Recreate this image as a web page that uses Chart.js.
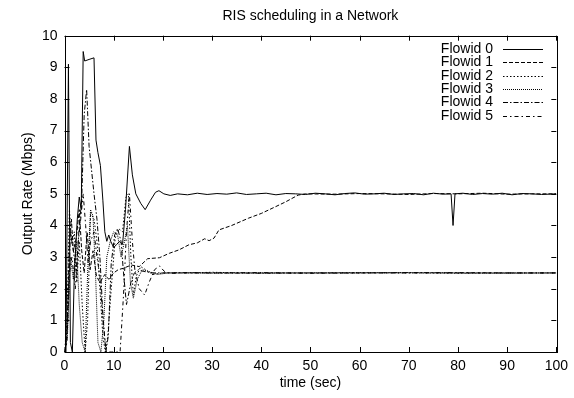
<!DOCTYPE html>
<html>
<head>
<meta charset="utf-8">
<script src="https://cdn.jsdelivr.net/npm/chart.js@4/dist/chart.umd.min.js"></script>
<style>
  html, body { margin: 0; padding: 0; background: #fff; }
  #wrap { width: 574px; height: 398px; }
</style>
</head>
<body>
<div id="wrap"><canvas id="c" width="574" height="398"></canvas></div>
<script>
// ---- data ----
const chartTitle = "RIS scheduling in a Network";
const xTitle = "time (sec)";
const yTitle = "Output Rate (Mbps)";
const seriesNames = ["Flowid 0", "Flowid 1", "Flowid 2", "Flowid 3", "Flowid 4", "Flowid 5"];

const flow0Time = [0,0.3,0.8,1.2,1.6,2.0,2.6,3.0,3.4,3.8,4.1,5.0,6.0,6.4,6.8,7.3,7.8,8.2,8.6,9.0,9.4,10.0,10.6,11.2,11.8,12.4,13.2,13.8,14.5,15.5,16.4,17.5,18.5,19.2,20.2,21.5,23,25,27,29,31,33,35,37,39,41,43,45,47,49,51,53,55,57,59,61,63,65,67,69,71,73,75,77,78.6,79,79.4,81,83,85,87,89,91,93,95,97,100];
const flow0Rate = [0,0,9.1,0.3,0,2.5,4.2,4.9,4.5,9.5,9.2,9.25,9.3,6.7,6.3,5.9,4.8,3.8,3.5,3.7,3.5,3.3,3.4,3.5,3.4,4.5,6.5,5.6,5.0,4.7,4.5,4.8,5.05,5.1,5.0,4.95,5.0,4.97,5.02,4.98,5.01,4.99,5.03,4.98,5.0,5.02,4.97,5.01,5.0,4.98,5.02,5.0,4.97,5.01,5.03,4.99,5.0,5.02,4.98,5.0,5.01,4.97,5.02,4.99,5.0,4.0,5.0,5.02,4.98,5.01,4.99,5.02,4.97,5.01,5.0,4.98,5.0];

const flow1Time = [0,0.5,1.0,1.4,1.8,2.4,3.0,3.5,4.0,4.6,5.2,5.8,6.5,7.2,8.2,9.0,10.0,10.9,12.0,13.6,15.2,16.9,19.3,21.3,23.3,25.3,27.0,28.5,29.4,30.4,31.4,34,37.4,40,43,45,47.5,49,55,60,65,70,75,80,85,90,95,100];
const flow1Rate = [0,0.5,3.5,4.2,3.2,3.6,4.5,3.2,2.5,3.8,2.6,3.2,2.4,2.2,2.45,2.3,2.5,2.6,2.65,2.75,2.7,2.95,2.98,3.12,3.23,3.39,3.45,3.58,3.52,3.6,3.86,4.0,4.23,4.38,4.6,4.75,4.96,5.0,4.99,5.01,5.0,4.98,5.01,5.0,5.02,4.99,5.0,5.0];

const flow2Time = [0,0.5,1.0,1.5,2.0,2.5,3.0,3.6,4.2,4.7,5.3,6.0,6.6,7.2,7.8,8.3,8.8,9.5,10.3,11.0,11.8,12.5,13.0,13.5,14.0,14.6,15.5,16.5,18,20,25,30,40,50,60,70,80,90,100];
const flow2Rate = [0,1.0,4.5,3.4,3.8,2.2,3.5,1.5,0,1.0,4.4,4.2,3.5,2.0,0.5,0,0.5,2.0,3.6,3.9,3.8,4.9,5.0,3.0,1.8,2.4,2.7,2.6,2.45,2.5,2.5,2.52,2.49,2.5,2.51,2.5,2.49,2.5,2.5];

const flow3Time = [0,0.6,1.2,1.8,2.4,3.0,3.6,4.2,4.7,5.3,5.8,6.3,6.8,7.4,8.0,8.6,9.3,10.0,10.8,11.5,12.2,12.8,13.4,14.0,14.8,15.8,17,19,21,25,30,40,50,60,70,80,90,100];
const flow3Rate = [0,0.5,3.0,2.3,3.5,1.5,0.3,0,2.5,4.5,4.3,2.5,0.3,0,1.0,3.0,3.5,3.8,3.7,3.0,3.5,4.0,2.2,1.7,2.3,2.6,2.55,2.45,2.5,2.5,2.49,2.51,2.5,2.5,2.51,2.5,2.49,2.5];

const flow4Time = [0,0.6,1.2,1.8,2.4,3.0,3.5,4.0,4.5,5.0,6.0,6.6,7.2,7.8,8.4,8.9,9.5,10.2,10.8,11.5,12.0,12.6,13.0,13.5,14.2,15.0,16.0,18,20,25,30,40,50,60,70,80,90,100];
const flow4Rate = [0,0.8,3.8,3.2,2.5,4.0,4.8,7.5,8.3,6.5,5.0,4.2,3.0,1.2,0,0.5,2.8,3.7,3.9,3.5,2.5,1.5,1.8,2.2,2.5,2.6,2.55,2.5,2.5,2.51,2.5,2.49,2.5,2.5,2.51,2.5,2.5,2.5];

const flow5Time = [0,0.5,1.0,1.5,2.2,2.8,3.3,3.8,4.3,4.8,5.3,6.0,6.6,7.2,7.8,8.5,9.5,10.5,11.3,12.0,12.6,13.2,13.8,14.3,15.2,16.3,17.2,18.3,19.3,20.3,21.5,23,30,40,50,60,70,80,90,100];
const flow5Rate = [0,0.3,2.5,3.0,2.0,3.5,4.2,5.0,4.0,2.8,3.5,3.8,3.0,2.4,1.0,0,0,0,0,1.8,3.8,5.0,3.5,2.6,2.0,1.8,2.2,2.6,2.72,2.55,2.48,2.5,2.5,2.51,2.49,2.5,2.5,2.51,2.5,2.5];

const xMin = 0, xMax = 100, xStep = 10;
const yMin = 0, yMax = 10, yStep = 1;

// ---- styling ----
const FONT = "'Liberation Sans', Arial, Helvetica, sans-serif";
const dashes = [[], [4, 2], [1.5, 2], [1, 1], [5, 2, 1.5, 2], [4, 3, 1.5, 3]];
const times = [flow0Time, flow1Time, flow2Time, flow3Time, flow4Time, flow5Time];
const rates = [flow0Rate, flow1Rate, flow2Rate, flow3Rate, flow4Rate, flow5Rate];

const datasets = seriesNames.map((name, i) => ({
  label: name,
  data: times[i].map((t, k) => ({ x: t, y: rates[i][k] })),
  borderColor: '#000',
  borderWidth: 1,
  borderDash: dashes[i],
  pointRadius: 0,
  tension: 0,
  fill: false
}));

const gnuplotFrame = {
  id: 'gnuplotFrame',
  afterDraw(chart) {
    const { ctx, chartArea: { left, right, top, bottom }, scales: { x, y } } = chart;
    ctx.save();
    ctx.strokeStyle = '#000';
    ctx.lineWidth = 1;
    ctx.setLineDash([]);
    const seg = (x1, y1, x2, y2) => { ctx.beginPath(); ctx.moveTo(x1, y1); ctx.lineTo(x2, y2); ctx.stroke(); };
    ctx.strokeRect(Math.round(left) + 0.5, Math.round(top) + 0.5, Math.round(right - left), Math.round(bottom - top));
    const tl = 5;
    x.ticks.forEach(tk => {
      const px = Math.round(x.getPixelForValue(tk.value)) + 0.5;
      seg(px, bottom, px, bottom - tl);
      seg(px, top, px, top + tl);
    });
    y.ticks.forEach(tk => {
      const py = Math.round(y.getPixelForValue(tk.value)) + 0.5;
      seg(left, py, left + tl, py);
      seg(right, py, right - tl, py);
    });
    ctx.fillStyle = '#000';
    // title, centred over the plot area
    ctx.font = "14px " + FONT;
    ctx.textAlign = 'center';
    ctx.textBaseline = 'middle';
    ctx.fillText(chartTitle, (left + right) / 2, 16);
    // gnuplot-style key: label then line sample
    ctx.textAlign = 'right';
    chart.data.datasets.forEach((ds, i) => {
      const yy = Math.round(49 + i * 13.3) + 0.5;
      ctx.fillText(ds.label, 493, yy);
      ctx.setLineDash(ds.borderDash || []);
      seg(503, yy, 543, yy);
    });
    ctx.restore();
  }
};

new Chart(document.getElementById('c'), {
  type: 'line',
  data: { datasets },
  options: {
    responsive: false,
    animation: false,
    devicePixelRatio: 1,
    layout: { padding: { left: 0, right: 14, top: 35.7, bottom: 0 } },
    plugins: {
      legend: { display: false },
      tooltip: { enabled: false },
      title: { display: false }
    },
    scales: {
      x: {
        type: 'linear',
        min: xMin, max: xMax,
        grid: { display: false, drawTicks: false },
        border: { display: false },
        ticks: { stepSize: xStep, color: '#000', font: { family: FONT, size: 14 }, padding: 6, maxRotation: 0 },
        title: { display: true, text: xTitle, color: '#000', font: { family: FONT, size: 14 }, padding: { top: 0, bottom: 6.6 } },
        afterFit(s) { s.height = 46; }
      },
      y: {
        type: 'linear',
        min: yMin, max: yMax,
        grid: { display: false, drawTicks: false },
        border: { display: false },
        ticks: { stepSize: yStep, color: '#000', font: { family: FONT, size: 14 }, padding: 7 },
        title: { display: true, text: yTitle, color: '#000', font: { family: FONT, size: 14 }, padding: { top: 20, bottom: 0 } },
        afterFit(s) { s.width = 64.5; }
      }
    }
  },
  plugins: [gnuplotFrame]
});
</script>
</body>
</html>
